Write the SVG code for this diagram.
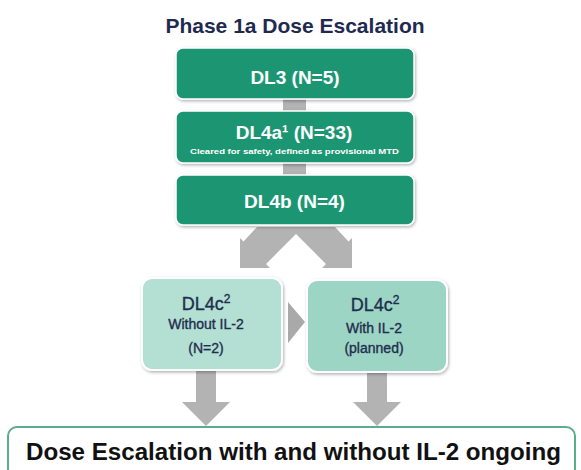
<svg xmlns="http://www.w3.org/2000/svg" width="581" height="470" viewBox="0 0 581 470">
  <defs>
    <filter id="sh" x="-10%" y="-10%" width="120%" height="130%">
      <feDropShadow dx="1" dy="1.5" stdDeviation="1.5" flood-color="#000" flood-opacity="0.3"/>
    </filter>
    <style>
      text { font-family: "Liberation Sans", Arial, sans-serif; font-weight: bold; text-anchor: middle; }
      .dark { fill: #1e9672; stroke: #ffffff; stroke-width: 1.5; filter: url(#sh); }
      .lt1 { fill: #b3e0d2; stroke: #ffffff; stroke-width: 2; filter: url(#sh); }
      .lt2 { fill: #9dd5c4; stroke: #ffffff; stroke-width: 2; filter: url(#sh); }
      .w { fill: #ffffff; }
      .nv { fill: #1f2d4e; font-weight: normal; stroke: #1f2d4e; stroke-width: 0.35; }
      .gr { fill: #b3b3b3; }
    </style>
  </defs>
  <rect width="581" height="470" fill="#ffffff"/>

  <text id="title" x="295" y="33" font-size="21" fill="#1f2a50">Phase 1a Dose Escalation</text>

  <g id="connectors">
    <rect class="gr" x="283" y="98" width="23" height="14"/>
    <rect class="gr" x="283" y="162" width="23" height="14"/>
    <polygon class="gr" points="257,227 243.5,241.5 240,238 240,268 270,268 266,264 296,234 326,264 322,268 352,268 352,238 348.5,241.5 335,227"/>
    <polygon fill="#a9a9a9" points="288,302 305,322 288,343"/>
    <polygon class="gr" points="196,371 216,371 216,402 230,402 206,426 182,402 196,402"/>
    <polygon class="gr" points="367,373 387,373 387,402 401,402 377,426 353,402 367,402"/>
  </g>

  <g id="dl3">
    <rect class="dark" x="176" y="48" width="238" height="51" rx="7"/>
    <text class="w" x="295" y="84" font-size="19">DL3 (N=5)</text>
  </g>

  <g id="dl4a">
    <rect class="dark" x="176" y="111" width="238" height="52" rx="7"/>
    <text class="w" x="294" y="139" font-size="19">DL4a¹ (N=33)</text>
    <text class="w" x="294.5" y="154" font-size="8" textLength="209" lengthAdjust="spacingAndGlyphs">Cleared for safety, defined as provisional MTD</text>
  </g>

  <g id="dl4b">
    <rect class="dark" x="176" y="175" width="238" height="50" rx="7"/>
    <text class="w" x="294.5" y="208" font-size="19">DL4b (N=4)</text>
  </g>

  <g id="dl4c-without">
    <rect class="lt1" x="142" y="278" width="140" height="92" rx="10"/>
    <text class="nv" x="206" y="310" font-size="18">DL4c<tspan font-size="12" dy="-7">2</tspan></text>
    <text class="nv" x="206" y="329" font-size="14">Without IL-2</text>
    <text class="nv" x="206" y="353" font-size="14">(N=2)</text>
  </g>

  <g id="dl4c-with">
    <rect class="lt2" x="307" y="280" width="140" height="92" rx="10"/>
    <text class="nv" x="375" y="311" font-size="18">DL4c<tspan font-size="12" dy="-7">2</tspan></text>
    <text class="nv" x="374" y="333" font-size="14">With IL-2</text>
    <text class="nv" x="374" y="353" font-size="14">(planned)</text>
  </g>

  <g id="ongoing">
    <rect x="8" y="427" width="567" height="60" rx="9" fill="#ffffff" stroke="#5aae8c" stroke-width="2"/>
    <text x="293.5" y="460" font-size="23" fill="#111111" textLength="535" lengthAdjust="spacingAndGlyphs">Dose Escalation with and without IL-2 ongoing</text>
  </g>
</svg>
